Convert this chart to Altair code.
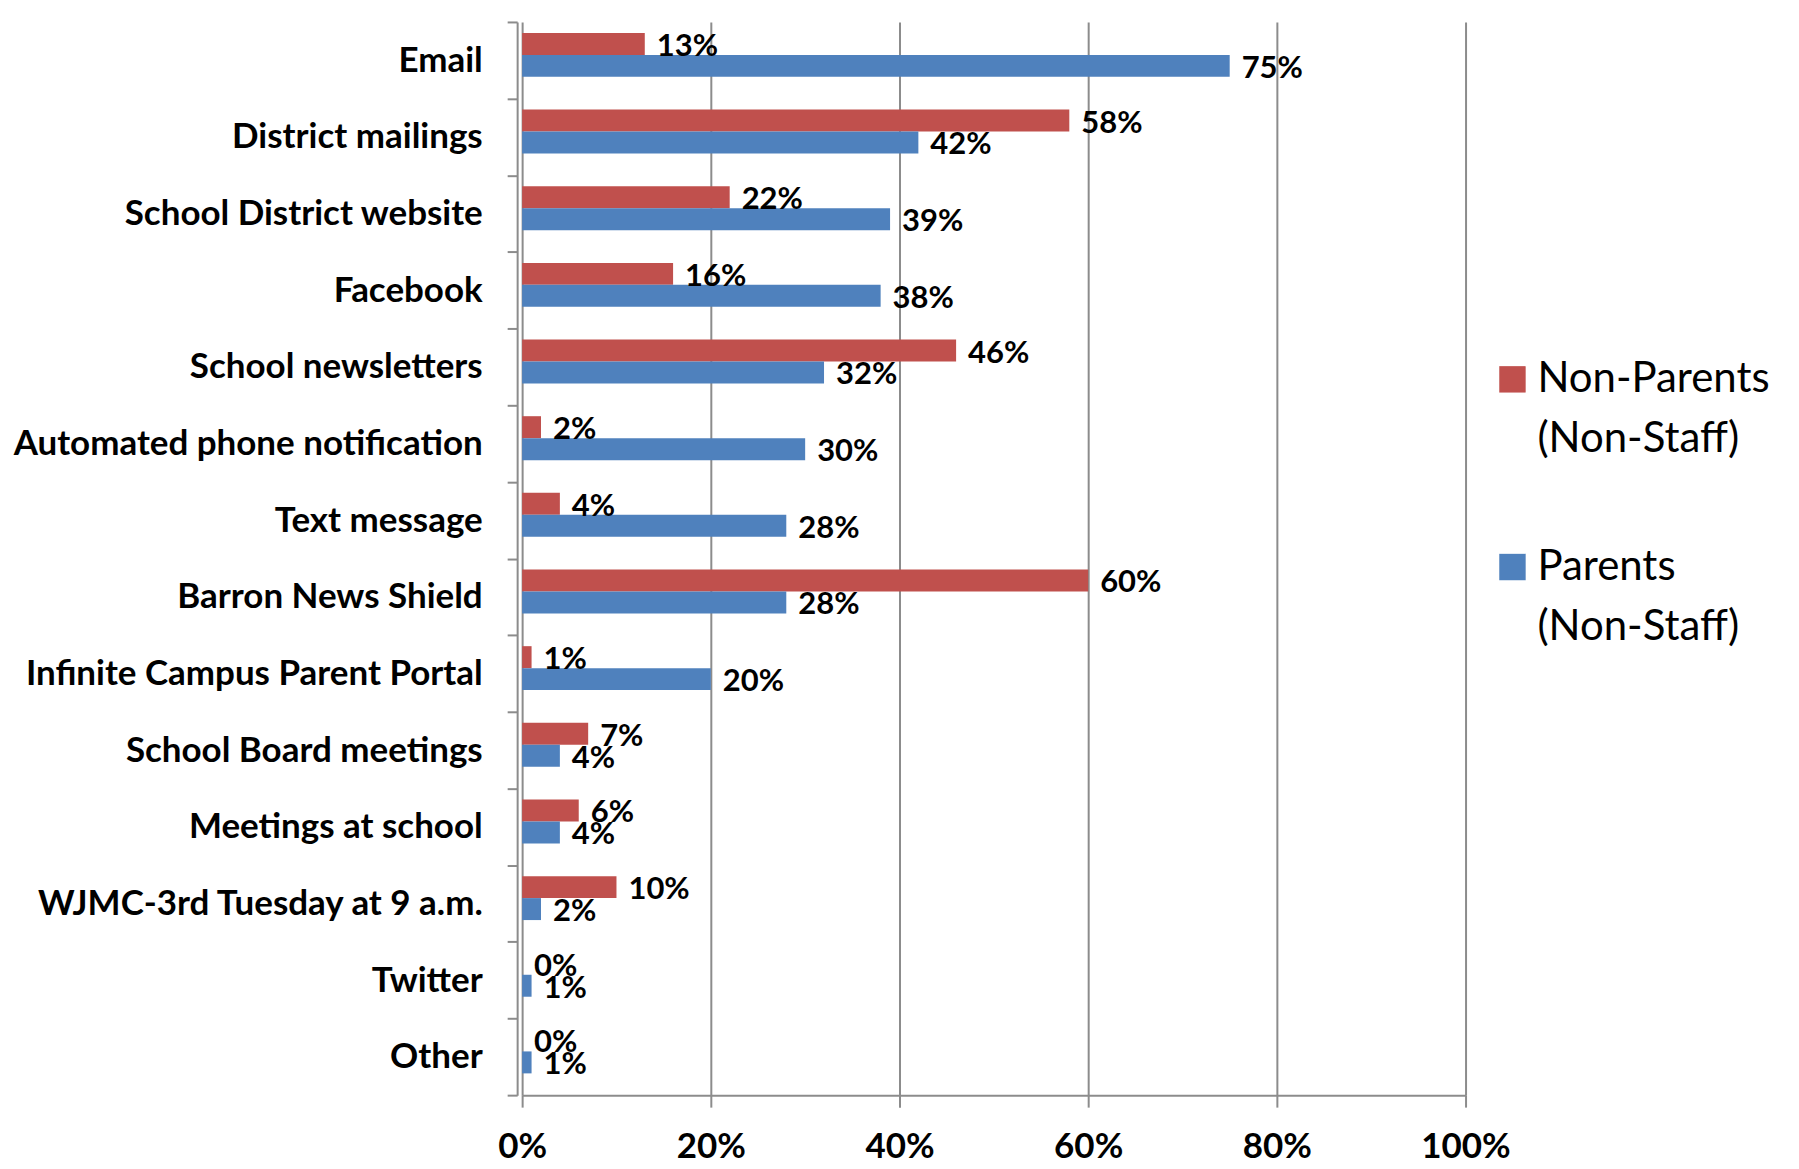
import altair as alt
import pandas as pd

categories = [
    "Email", "District mailings", "School District website", "Facebook",
    "School newsletters", "Automated phone notification", "Text message",
    "Barron News Shield", "Infinite Campus Parent Portal", "School Board meetings",
    "Meetings at school", "WJMC-3rd Tuesday at 9 a.m.", "Twitter", "Other",
]
non_parents = [13, 58, 22, 16, 46, 2, 4, 60, 1, 7, 6, 10, 0, 0]
parents = [75, 42, 39, 38, 32, 30, 28, 28, 20, 4, 4, 2, 1, 1]
series = ["Non-Parents (Non-Staff)", "Parents (Non-Staff)"]
colors = ["#C0504D", "#4F81BD"]
x_ticks = [0, 20, 40, 60, 80, 100]

rows = []
for c, a, b in zip(categories, non_parents, parents):
    rows.append({"cat": c, "series": series[0], "v": a, "lab": f"{a}%"})
    rows.append({"cat": c, "series": series[1], "v": b, "lab": f"{b}%"})
df = pd.DataFrame(rows)

FONT = "Lato"
GREY = "#8c8c8c"

y = alt.Y("cat:N", sort=categories, title=None,
          scale=alt.Scale(paddingInner=0, paddingOuter=0),
          axis=alt.Axis(labelFont=FONT, labelFontWeight="bold", labelFontSize=35,
                        labelColor="black", labelPadding=25, labelLimit=600,
                        offset=5, tickBand="extent", tickColor=GREY, tickSize=10,
                        tickWidth=2, domainColor=GREY, domainWidth=2,
                        grid=False))
x = alt.X("v:Q", title=None,
          scale=alt.Scale(domain=[0, 100], nice=False),
          axis=alt.Axis(values=x_ticks, labelExpr="datum.value + '%'",
                        labelFont=FONT, labelFontWeight="bold", labelFontSize=35,
                        labelColor="black", labelPadding=22, labelFlush=False,
                        tickColor=GREY, tickSize=12, tickWidth=2,
                        domainColor=GREY, domainWidth=2, grid=True,
                        gridColor=GREY, gridWidth=2))
yoff = alt.YOffset("series:N", sort=series,
                   scale=alt.Scale(domain=series, paddingInner=0,
                                   paddingOuter=0.745, align=0.335))

bars = alt.Chart(df).mark_bar(stroke=None).encode(
    y=y, x=x, yOffset=yoff,
    color=alt.Color("series:N", scale=alt.Scale(domain=series, range=colors),
                    legend=alt.Legend(title=None, orient="none", legendX=971,
                                      legendY=337, symbolType="square",
                                      symbolSize=700, symbolStrokeWidth=0,
                                      labelFont=FONT, labelFontSize=42,
                                      labelColor="black", labelLimit=400,
                                      labelExpr="split(datum.label, ' ')",
                                      labelBaseline="middle", labelOffset=4,
                                      rowPadding=86)),
)

text = alt.Chart(df).mark_text(align="left", baseline="middle", dx=12, dy=3,
                               font=FONT, fontWeight="bold", fontSize=31,
                               color="black").encode(
    y=y, x=x, yOffset=yoff, text="lab:N")

chart = alt.layer(bars, text).properties(
    width=945, height=1075,
    autosize=alt.AutoSizeParams(type="none"),
    padding={"left": 515, "top": 13, "right": 326, "bottom": 72},
).configure(
    style={"guide-label": {"lineHeight": 60}}
).configure_view(stroke=None)

chart.save("out.html", embed_options={"renderer": "svg", "actions": False})
